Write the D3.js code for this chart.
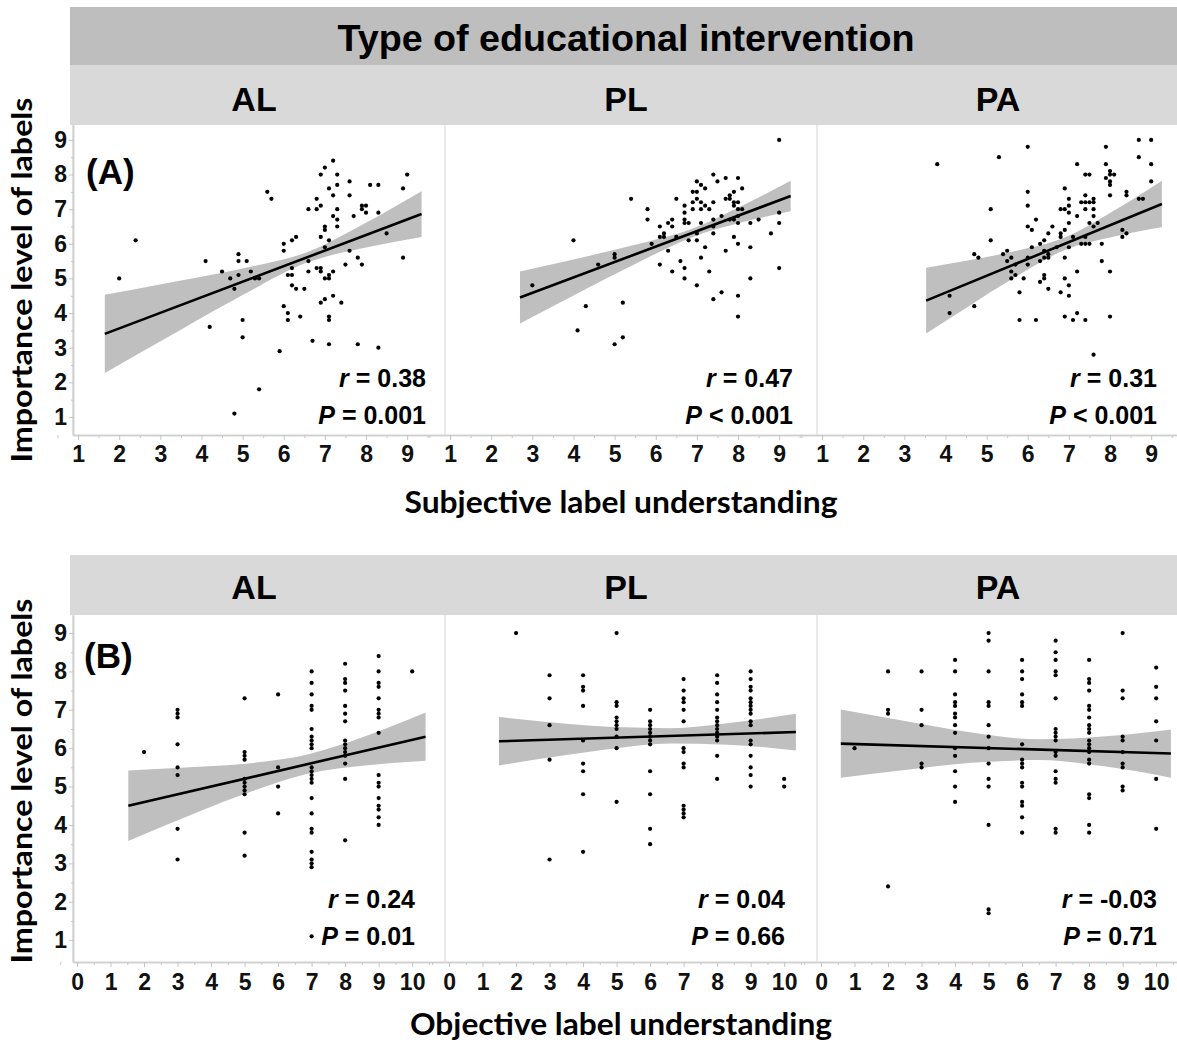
<!DOCTYPE html>
<html>
<head>
<meta charset="utf-8">
<script src="https://cdn.jsdelivr.net/npm/d3@7"></script>
<style>
  body { margin: 0; background: #fff; }
  svg { display: block; }
</style>
</head>
<body>
<svg id="chart" width="1177" height="1049"></svg>
<script>
// groups (facet columns) and stats
const groups = ["AL", "PL", "PA"];
const yTicks = [1, 2, 3, 4, 5, 6, 7, 8, 9];
const xTicksA = [1, 2, 3, 4, 5, 6, 7, 8, 9];
const xTicksB = [0, 1, 2, 3, 4, 5, 6, 7, 8, 9, 10];

const rA = ["0.38", "0.47", "0.31"];
const pA = ["= 0.001", "< 0.001", "< 0.001"];
const rB = ["0.24", "0.04", "-0.03"];
const pB = ["= 0.01", "= 0.66", "= 0.71"];

// (A) subjective understanding vs importance, [x, y]
const A_AL = [[2,5.0],[2.4,6.1],[4.1,5.5],[4.2,3.6],[4.5,5.2],[4.7,5.0],[4.8,4.7],[4.8,1.1],[4.9,5.7],[4.9,5.5],[4.9,5.1],[5,3.8],[5,3.3],[5.1,5.5],[5.2,5.2],[5.3,5.0],[5.4,5.0],[5.4,1.8],[5.6,7.5],[5.7,7.3],[5.9,2.9],[6,6.0],[6,5.8],[6,4.2],[6.1,4.0],[6.1,3.8],[6.1,5.1],[6.2,5.1],[6.2,5.3],[6.2,6.1],[6.2,4.8],[6.3,6.2],[6.3,4.7],[6.4,3.9],[6.5,4.7],[6.6,7.0],[6.6,5.5],[6.6,5.2],[6.7,3.2],[6.8,7.3],[6.8,7.0],[6.8,5.3],[6.9,8.0],[6.9,7.1],[6.9,6.2],[6.9,5.3],[6.9,5.2],[6.9,4.3],[7,8.2],[7,6.5],[7,6.4],[7,5.9],[7,5.0],[7,4.4],[7.1,7.6],[7.1,6.1],[7.1,5.1],[7.1,3.9],[7.1,3.8],[7.1,3.1],[7.1,5.0],[7.2,8.4],[7.2,7.4],[7.2,6.8],[7.2,5.2],[7.2,4.5],[7.3,8.0],[7.3,7.7],[7.3,7.0],[7.3,6.7],[7.3,6.5],[7.4,4.3],[7.5,5.4],[7.6,7.8],[7.6,7.4],[7.6,5.8],[7.7,6.8],[7.8,5.6],[7.8,3.1],[7.9,7.1],[7.9,7.0],[7.9,5.4],[8,7.1],[8,6.9],[8.1,7.7],[8.3,7.7],[8.3,6.9],[8.3,3.0],[8.5,6.3],[8.9,7.6],[8.9,5.6],[9,8.0]];

const A_PL = [[3.0,4.8],[4.0,6.1],[4.1,3.5],[4.3,4.2],[4.6,5.4],[5.0,5.7],[5.0,5.6],[5.0,3.1],[5.2,4.3],[5.2,3.3],[5.4,7.3],[5.8,7.0],[5.8,6.7],[5.9,6.0],[6.1,6.5],[6.1,6.2],[6.1,5.4],[6.2,6.3],[6.2,6.2],[6.3,6.6],[6.3,5.8],[6.4,6.7],[6.4,6.5],[6.4,5.2],[6.5,7.3],[6.5,6.2],[6.6,5.5],[6.7,7.1],[6.7,6.9],[6.7,6.7],[6.7,6.6],[6.7,5.3],[6.7,5.0],[6.8,6.6],[6.8,6.1],[6.9,7.5],[6.9,7.2],[6.9,7.0],[7.0,7.8],[7.0,7.5],[7.0,7.3],[7.0,6.3],[7.0,6.1],[7.0,4.8],[7.1,7.7],[7.1,7.2],[7.1,7.0],[7.1,6.6],[7.1,5.6],[7.2,7.6],[7.2,7.1],[7.2,5.9],[7.3,7.0],[7.3,5.2],[7.4,8.0],[7.4,7.2],[7.4,6.7],[7.4,6.5],[7.4,6.3],[7.4,4.4],[7.5,7.8],[7.6,6.8],[7.6,4.6],[7.7,7.9],[7.7,7.3],[7.7,5.8],[7.8,7.4],[7.8,7.3],[7.8,6.7],[7.9,7.5],[7.9,7.2],[7.9,7.1],[7.9,6.7],[7.9,6.2],[8.0,7.9],[8.0,7.2],[8.0,7.0],[8.0,6.8],[8.0,6.6],[8.0,6.0],[8.0,4.5],[8.0,3.9],[8.1,7.6],[8.1,7.0],[8.3,6.6],[8.3,5.9],[8.3,5.0],[8.5,6.7],[8.8,6.3],[9.0,9.0],[9.0,6.9],[9.0,6.6],[9.0,5.3]];

const A_PA = [[3.8,8.3],[4.1,4.5],[4.1,4.0],[4.7,5.7],[4.7,4.2],[4.8,5.6],[5.1,7.0],[5.1,6.1],[5.3,8.5],[5.4,5.7],[5.5,5.8],[5.5,5.5],[5.6,5.6],[5.6,5.2],[5.6,5.0],[5.7,5.4],[5.7,5.1],[5.8,4.6],[5.8,3.8],[5.9,5.0],[6.0,8.8],[6.0,7.5],[6.0,7.1],[6.0,6.5],[6.0,5.4],[6.0,5.6],[6.1,6.4],[6.1,5.9],[6.2,6.7],[6.2,3.8],[6.3,5.5],[6.3,6.0],[6.3,4.9],[6.4,6.1],[6.4,5.1],[6.4,5.0],[6.4,5.8],[6.4,5.6],[6.5,6.3],[6.5,5.7],[6.5,5.6],[6.5,4.7],[6.6,6.5],[6.7,5.9],[6.8,6.3],[6.8,6.2],[6.8,7.0],[6.8,4.6],[6.9,7.6],[6.9,7.0],[6.9,6.4],[6.9,5.6],[6.9,5.0],[6.9,3.9],[7.0,7.3],[7.0,7.1],[7.0,6.9],[7.0,6.6],[7.0,5.9],[7.0,4.8],[7.0,4.5],[7.1,3.8],[7.1,6.2],[7.2,8.3],[7.2,6.8],[7.2,5.2],[7.2,4.0],[7.3,7.2],[7.3,6.0],[7.4,8.0],[7.4,7.4],[7.4,7.2],[7.4,7.0],[7.4,6.2],[7.4,6.0],[7.4,3.8],[7.5,8.0],[7.5,7.2],[7.5,6.6],[7.5,6.0],[7.6,7.3],[7.6,7.2],[7.6,7.0],[7.6,6.8],[7.6,6.5],[7.6,2.8],[7.7,6.6],[7.8,6.0],[7.8,5.5],[7.9,8.8],[7.9,8.3],[7.9,7.9],[8.0,8.1],[8.0,8.0],[8.0,7.8],[8.0,7.7],[8.0,7.4],[8.0,5.2],[8.0,3.9],[8.1,8.0],[8.3,6.4],[8.3,6.2],[8.4,7.5],[8.4,7.4],[8.4,6.3],[8.7,9.0],[8.7,8.5],[8.7,7.3],[8.8,7.3],[9.0,9.0],[9.0,8.3],[9.0,7.8]];

// (B) objective understanding (integer score) vs importance: [score, [importance values]]
const B_AL = [[2,[5.9]],[3,[7.0,6.9,6.8,6.1,5.5,5.3,3.9,3.1]],[5,[7.3,5.9,5.8,5.7,5.2,5.1,5.0,4.9,4.8,3.8,3.2]],[6,[7.4,5.5,5.0,4.3]],[7,[8.0,7.7,7.4,7.1,7.0,6.5,6.3,6.2,6.1,6.0,5.5,5.4,5.3,5.2,5.1,4.7,4.3,3.9,3.8,3.3,3.1,3.0,2.9,1.1]],[8,[8.2,7.8,7.7,7.5,7.1,6.9,6.7,6.2,6.1,6.0,5.9,5.8,5.6,5.2,3.6]],[9,[8.4,8.0,7.7,7.6,7.3,7.0,6.9,6.8,6.4,5.3,5.1,5.0,4.7,4.5,4.4,4.2,4.0]],[10,[8.0]]];

const B_PL = [[2,[9.0]],[3,[7.9,7.3,6.6,5.7,3.1]],[4,[7.9,7.6,7.5,7.1,6.2,5.6,5.4,4.8,3.3]],[5,[9.0,7.2,7.1,6.8,6.7,6.6,6.5,6.3,6.0,4.6]],[6,[7.0,6.7,6.6,6.5,6.4,6.3,6.2,6.1,5.4,4.8,3.9,3.5]],[7,[7.8,7.5,7.3,7.2,7.0,6.7,6.0,5.9,5.6,5.5,4.5,4.4,4.3,4.2]],[8,[7.9,7.7,7.4,7.2,7.0,6.8,6.7,6.6,6.5,6.4,6.3,6.2,5.8,5.2]],[9,[8.0,7.8,7.6,7.5,7.3,7.2,7.1,7.0,6.9,6.7,6.6,6.2,6.1,5.8,5.5,5.3,5.0]],[10,[5.2,5.0]]];

const B_PA = [[1,[6.0]],[2,[8.0,7.0,6.9,2.4]],[3,[8.0,7.0,6.6,5.6,5.5]],[4,[8.3,8.0,7.4,7.2,7.1,6.9,6.8,6.6,6.4,6.0,5.8,5.4,5.0,4.6]],[5,[9.0,8.8,8.0,7.2,7.1,6.6,6.3,6.0,5.6,5.2,5.0,4.0,1.8,1.7]],[6,[8.3,8.0,7.8,7.4,7.2,7.1,6.1,5.7,5.6,5.5,5.1,5.0,4.6,4.5,4.2,3.8]],[7,[8.8,8.5,8.3,8.0,7.9,7.3,6.5,6.4,6.3,6.2,5.9,5.8,5.4,5.2,5.1,3.9,3.8]],[8,[8.3,7.8,7.7,7.5,7.1,7.0,6.8,6.6,6.5,6.4,6.2,6.1,6.0,5.9,5.7,5.6,4.8,4.7,4.0,3.8,1.0]],[9,[9.0,7.5,7.3,6.3,6.2,5.9,5.6,5.5,5.0,4.9]],[10,[8.1,7.6,7.3,6.7,6.2,5.2,3.9]]];

// fitted lines [x0, y0, x1, y1]
const fitA = [[1.65,3.40,9.35,6.86],[2.7,4.45,9.28,7.38],[3.53,4.36,9.26,7.15]];
const fitB = [[1.53,4.50,10.4,6.30],[1.49,6.18,10.35,6.42],[0.59,6.12,10.44,5.86]];

// confidence bands [x, lower, upper]
const bandA = [
  [[1.65,2.27,4.53],[3.5,3.52,4.94],[5,4.52,5.29],[6.55,5.45,5.75],[8,5.89,6.61],[9.35,6.20,7.52]],
  [[2.7,3.70,5.20],[4,4.51,5.55],[5.5,5.42,5.97],[6.9,6.20,6.44],[8.1,6.62,7.10],[9.28,6.94,7.82]],
  [[3.53,3.41,5.31],[4.5,4.15,5.51],[5.7,5.04,5.79],[6.9,5.82,6.18],[8.1,6.21,6.96],[9.26,6.48,7.82]]
];
const bandB = [
  [[1.53,3.58,5.42],[3.5,4.30,5.51],[5.2,4.87,5.61],[6.85,5.33,5.83],[8.6,5.55,6.31],[10.4,5.67,6.93]],
  [[1.49,5.55,6.81],[3.5,5.82,6.64],[5,6.00,6.55],[6.6,6.12,6.52],[8.3,6.09,6.65],[10.35,5.94,6.90]],
  [[0.59,5.23,7.01],[2.5,5.43,6.71],[4.5,5.62,6.41],[6.5,5.69,6.23],[8.5,5.52,6.31],[10.44,5.23,6.49]]
];

const svg = d3.select("#chart");
const PW = 372;
const panelX = [73, 445, 817];
const tickFont = "'Liberation Sans', Arial, sans-serif";
const titleFont = "Lato, 'Open Sans', sans-serif";

// header band
svg.append("rect").attr("x", 70).attr("y", 7).attr("width", 1107).attr("height", 58).attr("fill", "#bebebe");
svg.append("text").attr("x", 626).attr("y", 51).attr("text-anchor", "middle")
  .attr("textLength", 577).attr("lengthAdjust", "spacingAndGlyphs")
  .style("font-family", tickFont).style("font-weight", "bold").style("font-size", "36px")
  .text("Type of educational intervention");

function drawRow(cfg) {
  const y = d3.scaleLinear().domain([cfg.y0, cfg.y1]).range([cfg.bottom, cfg.top]);
  const x = d3.scaleLinear().domain(cfg.xdom).range([0, PW]);

  // strip
  svg.append("rect").attr("x", 70).attr("y", cfg.stripY).attr("width", 1107).attr("height", cfg.top - cfg.stripY).attr("fill", "#d9d9d9");

  groups.forEach(function (g, i) {
    const px = panelX[i];
    svg.append("text").attr("x", px + 181).attr("y", cfg.stripBase).attr("text-anchor", "middle")
      .style("font-family", tickFont).style("font-weight", "bold").style("font-size", "34px")
      .text(g);

    const clipId = "clip-" + cfg.id + i;
    svg.append("clipPath").attr("id", clipId).append("rect")
      .attr("x", 0).attr("y", cfg.top).attr("width", PW).attr("height", cfg.bottom - cfg.top);

    const p = svg.append("g").attr("transform", "translate(" + px + ",0)");

    // separator / left border
    p.append("line").attr("x1", 0).attr("x2", 0).attr("y1", cfg.top).attr("y2", cfg.bottom)
      .attr("stroke", "#dcdcdc").attr("stroke-width", 1.2);

    const inner = p.append("g").attr("clip-path", "url(#" + clipId + ")");

    // confidence band
    inner.append("path")
      .datum(cfg.bands[i])
      .attr("d", d3.area().x(d => x(d[0])).y0(d => y(d[1])).y1(d => y(d[2])).curve(d3.curveMonotoneX))
      .attr("fill", "#bfbfbf");

    // points
    inner.selectAll("circle").data(cfg.points[i]).enter().append("circle")
      .attr("cx", d => x(d[0])).attr("cy", d => y(d[1])).attr("r", 2.1).attr("fill", "#000");

    // fit line
    const f = cfg.fits[i];
    inner.append("line").attr("x1", x(f[0])).attr("y1", y(f[1])).attr("x2", x(f[2])).attr("y2", y(f[3]))
      .attr("stroke", "#000").attr("stroke-width", 2.6);

    // x axis, minor ticks then major with labels
    const minor = d3.range(cfg.xTicks[0] - 0.5, cfg.xTicks[cfg.xTicks.length - 1] + 1, 0.5).filter(v => v % 1 !== 0);
    const ax = p.append("g").attr("transform", "translate(0," + cfg.bottom + ")");
    ax.call(d3.axisBottom(x).tickValues(minor).tickSize(3).tickSizeOuter(0).tickFormat(""));
    const axMaj = p.append("g").attr("transform", "translate(0," + cfg.bottom + ")");
    axMaj.call(d3.axisBottom(x).tickValues(cfg.xTicks).tickSize(5).tickSizeOuter(0).tickPadding(cfg.xPad).tickFormat(d3.format("d")));
    [ax, axMaj].forEach(a => {
      a.select(".domain").attr("stroke", "#d0d0d0").attr("stroke-width", 1.5);
      a.selectAll(".tick line").attr("stroke", "#c4c4c4");
    });
    axMaj.selectAll(".tick text").style("font-family", tickFont).style("font-weight", "bold")
      .style("font-size", "23px").attr("fill", "#111");

    // r and P
    const t = p.append("g").style("font-family", tickFont).style("font-weight", "bold").style("font-size", "25px");
    const rt = t.append("text").attr("x", cfg.annX[i]).attr("y", cfg.rBase).attr("text-anchor", "end");
    rt.append("tspan").style("font-style", "italic").text("r");
    rt.append("tspan").text(" = " + cfg.r[i]);
    const pt = t.append("text").attr("x", cfg.annX[i]).attr("y", cfg.pBase).attr("text-anchor", "end");
    pt.append("tspan").style("font-style", "italic").text("P");
    pt.append("tspan").text(" " + cfg.p[i]);
  });

  // y axis on first panel
  const yg = svg.append("g").attr("transform", "translate(" + panelX[0] + ",0)");
  const yMinor = d3.range(1.5, 9.5, 1);
  const ym = yg.append("g").call(d3.axisLeft(y).tickValues(yMinor).tickSize(2).tickSizeOuter(0).tickFormat(""));
  const yM = yg.append("g").call(d3.axisLeft(y).tickValues(yTicks).tickSize(4).tickSizeOuter(0).tickPadding(2));
  [ym, yM].forEach(a => {
    a.select(".domain").attr("stroke", "#d0d0d0").attr("stroke-width", 1.5);
    a.selectAll(".tick line").attr("stroke", "#c4c4c4");
  });
  yM.selectAll(".tick text").style("font-family", tickFont).style("font-weight", "bold")
    .style("font-size", "23px").attr("fill", "#111");

  // panel tag
  svg.append("text").attr("x", cfg.tagX).attr("y", cfg.tagBase)
    .style("font-family", tickFont).style("font-weight", "bold").style("font-size", "35px").text(cfg.tag);

  // axis titles
  svg.append("text").attr("transform", "translate(32," + cfg.yTitleC + ") rotate(-90)")
    .attr("text-anchor", "middle").attr("textLength", 365).attr("lengthAdjust", "spacingAndGlyphs")
    .style("font-family", titleFont).style("font-weight", "bold").style("font-size", "29px")
    .text("Importance level of labels");
  svg.append("text").attr("x", 621).attr("y", cfg.xTitleBase).attr("text-anchor", "middle")
    .attr("textLength", cfg.xTitleLen).attr("lengthAdjust", "spacingAndGlyphs")
    .style("font-family", titleFont).style("font-weight", "bold").style("font-size", "30px")
    .text(cfg.xTitle);
}

drawRow({
  id: "A", stripY: 65, stripBase: 111, top: 125, bottom: 435, y0: 0.48, y1: 9.43,
  xdom: [0.877, 9.92], xTicks: xTicksA, xPad: 6,
  points: [A_AL, A_PL, A_PA], fits: fitA, bands: bandA,
  r: rA, p: pA, annX: [353, 348, 340], rBase: 387, pBase: 424,
  tag: "(A)", tagX: 86, tagBase: 184, yTitleC: 280,
  xTitle: "Subjective label understanding", xTitleBase: 513, xTitleLen: 433
});

const flat = rows => rows.flatMap(c => c[1].map(v => [c[0], v]));
drawRow({
  id: "B", stripY: 555, stripBase: 599, top: 615, bottom: 962, y0: 0.43, y1: 9.47,
  xdom: [-0.12, 10.98], xTicks: xTicksB, xPad: 7,
  points: [flat(B_AL), flat(B_PL), flat(B_PA)], fits: fitB, bands: bandB,
  r: rB, p: pB, annX: [342, 340, 340], rBase: 908, pBase: 945,
  tag: "(B)", tagX: 84, tagBase: 668, yTitleC: 781,
  xTitle: "Objective label understanding", xTitleBase: 1035, xTitleLen: 422
});
</script>
</body>
</html>
